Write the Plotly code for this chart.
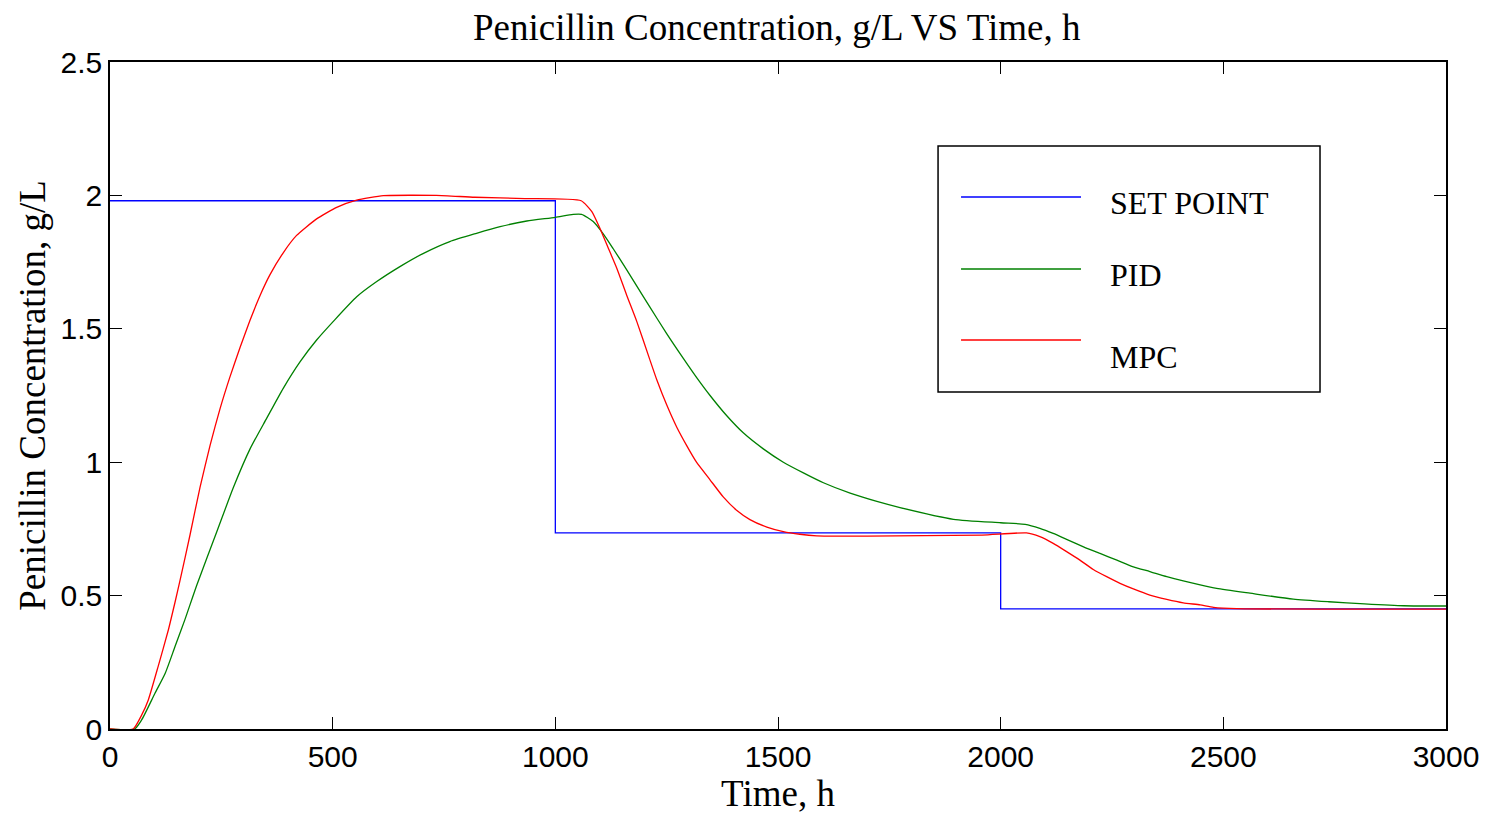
import plotly.graph_objects as go

# Set point schedule (step changes), g/L
t_sp = [0, 1000, 2000, 3000]
v_sp = [1.98, 0.735, 0.45, 0.45]

# PID controller response
t_pid = [0, 55, 71, 101, 124, 146, 168, 195, 240, 277, 314, 352, 389, 427, 464,
         501, 554, 599, 651, 704, 763, 823, 876, 936, 1000, 1040, 1059, 1085,
         1108, 1130, 1160, 1183, 1211, 1250, 1287, 1317, 1347, 1385, 1422, 1467,
         1512, 1557, 1602, 1662, 1722, 1774, 1894, 2000, 2055, 2088, 2118, 2148,
         2186, 2223, 2261, 2298, 2335, 2373, 2410, 2448, 2485, 2560, 2657, 2737,
         2817, 2905, 3000]
v_pid = [0, 0, 0.034, 0.134, 0.209, 0.309, 0.409, 0.540, 0.740, 0.905, 1.048,
         1.165, 1.277, 1.377, 1.458, 1.527, 1.620, 1.677, 1.733, 1.783, 1.827,
         1.858, 1.883, 1.904, 1.918, 1.929, 1.929, 1.902, 1.855, 1.800, 1.722,
         1.660, 1.585, 1.482, 1.390, 1.318, 1.251, 1.174, 1.110, 1.050, 1.000,
         0.960, 0.923, 0.884, 0.853, 0.830, 0.786, 0.773, 0.767, 0.752, 0.733,
         0.711, 0.683, 0.658, 0.633, 0.608, 0.590, 0.571, 0.555, 0.540, 0.527,
         0.509, 0.487, 0.477, 0.469, 0.462, 0.461]

# MPC controller response
t_mpc = [0, 52, 71, 86, 108, 131, 146, 157, 180, 202, 225, 247, 269, 292, 314,
         337, 359, 389, 419, 464, 509, 554, 614, 733, 819, 932, 1058, 1082, 1100,
         1119, 1138, 1160, 1183, 1211, 1228, 1250, 1273, 1295, 1317, 1347, 1377,
         1407, 1437, 1475, 1512, 1549, 1587, 1700, 1958, 2058, 2088, 2118, 2148,
         2178, 2208, 2238, 2268, 2298, 2335, 2373, 2410, 2448, 2478, 2530, 3000]
v_mpc = [0, 0, 0.052, 0.109, 0.234, 0.371, 0.475, 0.555, 0.730, 0.905, 1.065,
         1.200, 1.318, 1.430, 1.530, 1.625, 1.702, 1.785, 1.850, 1.912, 1.955,
         1.982, 1.999, 2.0, 1.993, 1.988, 1.98, 1.939, 1.877, 1.802, 1.727, 1.627,
         1.527, 1.390, 1.308, 1.215, 1.130, 1.062, 1.000, 0.935, 0.870, 0.820,
         0.785, 0.757, 0.740, 0.730, 0.724, 0.723, 0.727, 0.735, 0.721, 0.696,
         0.665, 0.633, 0.598, 0.571, 0.546, 0.525, 0.502, 0.486, 0.473, 0.465,
         0.456, 0.451, 0.449]

x_ticks = [0, 500, 1000, 1500, 2000, 2500, 3000]
y_ticks = [0, 0.5, 1, 1.5, 2, 2.5]

series_names = ["SET POINT", "PID", "MPC"]
series_colors = ["#0000ff", "#008000", "#ff0000"]

SERIF = "Liberation Serif, Times New Roman, serif"
SANS = "Liberation Sans, Arial, sans-serif"

fig = go.Figure()
fig.add_trace(go.Scatter(x=t_sp, y=v_sp, mode="lines", name=series_names[0],
                         line=dict(color=series_colors[0], width=1.3, shape="hv"),
                         showlegend=False))
fig.add_trace(go.Scatter(x=t_pid, y=v_pid, mode="lines", name=series_names[1],
                         line=dict(color=series_colors[1], width=1.3,
                                   shape="spline", smoothing=0.6),
                         showlegend=False))
fig.add_trace(go.Scatter(x=t_mpc, y=v_mpc, mode="lines", name=series_names[2],
                         line=dict(color=series_colors[2], width=1.3,
                                   shape="spline", smoothing=0.5),
                         showlegend=False))

# Boxed key in the upper right of the axes (paper coordinates)
key_box = dict(x0=0.6198, x1=0.9057, y0=0.5052, y1=0.8741)
key_line_x = (0.6370, 0.7268)
key_line_y = [0.7976, 0.6897, 0.5832]
key_text_x = 0.7470
key_text_y = [0.7886, 0.6807, 0.5577]

fig.add_shape(type="rect", xref="paper", yref="paper",
              x0=key_box["x0"], x1=key_box["x1"],
              y0=key_box["y0"], y1=key_box["y1"],
              line=dict(color="black", width=1.5), fillcolor="white", layer="above")
for name, color, ly, ty in zip(series_names, series_colors, key_line_y, key_text_y):
    fig.add_shape(type="line", xref="paper", yref="paper",
                  x0=key_line_x[0], x1=key_line_x[1], y0=ly, y1=ly,
                  line=dict(color=color, width=1.5), layer="above")
    fig.add_annotation(xref="paper", yref="paper", x=key_text_x, y=ty,
                       xanchor="left", yanchor="middle", showarrow=False,
                       text=name, font=dict(family=SERIF, size=32, color="black"))

axis_common = dict(
    showline=True, linecolor="black", linewidth=1.5, mirror="ticks",
    ticks="inside", ticklen=12, tickwidth=1, tickcolor="black",
    showgrid=False, zeroline=False, automargin=False,
    tickfont=dict(family=SANS, size=30, color="black"),
)

fig.update_layout(
    width=1488, height=816,
    margin=dict(l=110, r=42, t=62, b=87),
    paper_bgcolor="white", plot_bgcolor="white",
    title=dict(text="Penicillin Concentration, g/L VS Time, h",
               font=dict(family=SERIF, size=37, color="black"),
               x=0.522, xanchor="center", y=0.967, yanchor="middle"),
    xaxis=dict(range=[0, 3000], tickvals=x_ticks,
               title=dict(text="Time, h", standoff=8,
                          font=dict(family=SERIF, size=37, color="black")),
               **axis_common),
    yaxis=dict(range=[0, 2.5], tickvals=y_ticks,
               title=dict(text="Penicillin Concentration, g/L", standoff=4,
                          font=dict(family=SERIF, size=37, color="black")),
               **axis_common),
    showlegend=False,
)

fig.write_html("out.html")
